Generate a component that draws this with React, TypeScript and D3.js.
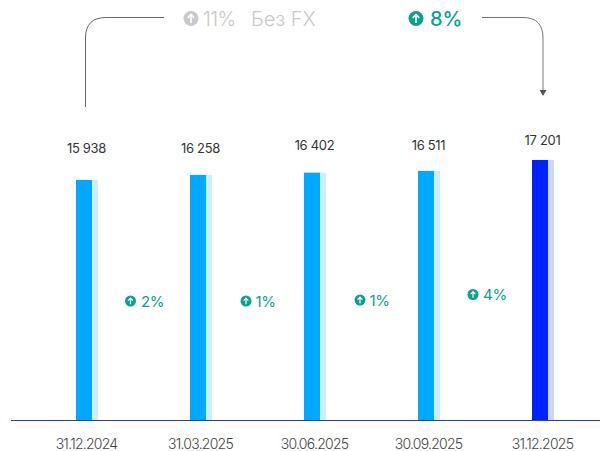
import React from "react";
import * as d3 from "d3";

const dates = ["31.12.2024", "31.03.2025", "30.06.2025", "30.09.2025", "31.12.2025"];
const values = [15938, 16258, 16402, 16511, 17201];
const valueLabels = ["15 938", "16 258", "16 402", "16 511", "17 201"];
const valueLabelY = [153, 153, 150, 150, 145];
const growthLabels = ["2%", "1%", "1%", "4%"];
const growthY = [301, 301, 300, 294.5];
const growthIconX = [130.5, 246, 360, 473];
const growthTextX = [141, 255.5, 369.5, 483];

const W = 600, H = 451;
const baseY = 420.5;
const y = d3.scaleLinear().domain([747, 17201]).range([baseY, 160]);
const x = d3.scaleLinear().domain([0, 4]).range([76, 532]);
const FONT = "Inter, 'Noto Sans', sans-serif";
const TEAL = "#0aa092";

function Up({ cx, cy, r, fill }: { cx: number; cy: number; r: number; fill: string }) {
  const s = r / 6;
  return (
    <g transform={`translate(${cx},${cy}) scale(${s})`}>
      <circle r={6} fill={fill} />
      <path d="M0 3.6V-3M-2.6 -0.5L0 -3.2L2.6 -0.5" fill="none" stroke="#fff" strokeWidth={1.3} />
    </g>
  );
}

export default function App() {
  return (
    <svg width={W} height={H} style={{ position: "absolute", left: 0, top: 0, background: "#fff" }} fontFamily={FONT}>
      <path d="M85.5 107V38Q85.5 17.5 106 17.5H164" fill="none" stroke="#666" strokeWidth={1} />
      <path d="M482 17.5H523Q543 17.5 543 38V90" fill="none" stroke="#777" strokeWidth={1} />
      <path d="M539.5 90H546.5L543 96Z" fill="#555" />
      <Up cx={191} cy={18.5} r={7.5} fill="#c9c9c9" />
      <text x={203} y={26} fontSize={20} fontWeight={300} fill="#c9c9c9" letterSpacing={-0.6}>11%</text>
      <text x={251} y={26} fontSize={20} fontWeight={300} fill="#c9c9c9">Без FX</text>
      <Up cx={416} cy={18.5} r={7.5} fill={TEAL} />
      <text x={430} y={26} fontSize={20} fontWeight={500} fill={TEAL}>8%</text>

      {values.map((v, i) => {
        const light = i === 4 ? "#ccd5ff" : "#cceeff";
        const dark = i === 4 ? "#0022ff" : "#00a9ff";
        return (
          <g key={dates[i]}>
            <rect x={x(i) + 16} y={y(v)} width={6} height={baseY - y(v)} fill={light} />
            <rect x={x(i)} y={y(v)} width={16} height={baseY - y(v)} fill={dark} />
            <text x={x(i) + 10.5} y={valueLabelY[i]} textAnchor="middle" fontSize={13} fontWeight={400} fill="#333" letterSpacing={-0.3}>{valueLabels[i]}</text>
            <text x={x(i) + 10.5} y={449} textAnchor="middle" fontSize={14} fontWeight={300} fill="#444" letterSpacing={-0.75}>{dates[i]}</text>
          </g>
        );
      })}
      <line x1={11} x2={600} y1={baseY} y2={baseY} stroke="#2a3f9e" strokeWidth={1} />
      {growthLabels.map((g, i) => (
        <g key={i}>
          <Up cx={growthIconX[i]} cy={growthY[i]} r={5.5} fill={TEAL} />
          <text x={growthTextX[i]} y={growthY[i] + 5.5} fontSize={15} fontWeight={400} fill={TEAL} letterSpacing={-0.3}>{g}</text>
        </g>
      ))}
    </svg>
  );
}
